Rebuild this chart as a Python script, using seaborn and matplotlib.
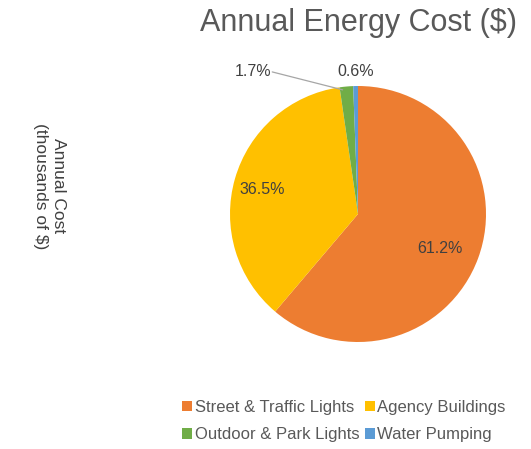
import numpy as np
import matplotlib
matplotlib.use("Agg")
import matplotlib.pyplot as plt
import seaborn as sns
from matplotlib.patches import Patch

categories = ["Street & Traffic Lights", "Agency Buildings", "Outdoor & Park Lights", "Water Pumping"]
shares = [61.2, 36.5, 1.7, 0.6]
colors = ["#ED7D31", "#FFC000", "#70AD47", "#5B9BD5"]

sns.set_theme(style="white")
plt.rcParams["font.family"] = ["Liberation Sans", "DejaVu Sans"]

fig = plt.figure(figsize=(5.31, 4.49), dpi=100)
W, H = 531, 449
cx, cy, r = 358, 214, 128
ax = fig.add_axes([(cx - r) / W, (H - cy - r) / H, 2 * r / W, 2 * r / H])

wedges, texts, autotexts = ax.pie(
    shares, colors=colors, startangle=90, counterclock=False,
    autopct="%.1f%%", pctdistance=0.62,
    wedgeprops=dict(linewidth=0),
    textprops=dict(color="#404040", fontsize=11.5),
)
ax.set_xlim(-1, 1)
ax.set_ylim(-1, 1)
ax.set_aspect("auto")

# move the small slice labels outside, like the original
autotexts[2].set_position((-0.68, 1.11))
autotexts[2].set_ha("right")
autotexts[3].set_position((-0.02, 1.11))
autotexts[3].set_ha("center")
autotexts[0].set_position((0.64, -0.27))
autotexts[1].set_position((-0.75, 0.19))
ax.plot([-0.67, -0.12], [1.11, 0.97], color="#a6a6a6", lw=0.9, clip_on=False)

fig.text(cx / W, 1 - 23 / H, "Annual Energy Cost ($)", ha="center", va="center",
         fontsize=22, color="#595959")
fig.text(49 / W, 1 - 186 / H, "Annual Cost\n(thousands of $)", rotation=270,
         ha="center", va="center", fontsize=12.5, color="#404040",
         multialignment="center", linespacing=1.25)

# row-major order like the original legend
order = [0, 2, 1, 3]
handles = [Patch(facecolor=colors[i], edgecolor="none") for i in order]
labels = [categories[i] for i in order]
fig.legend(handles, labels, ncol=2, loc="center", bbox_to_anchor=(344 / W, 1 - 421 / H),
           frameon=False, fontsize=12, labelcolor="#595959", handlelength=0.6,
           handleheight=0.6, handletextpad=0.15, columnspacing=0.3, labelspacing=0.75)

fig.savefig("out.png", dpi=100, facecolor="white")
